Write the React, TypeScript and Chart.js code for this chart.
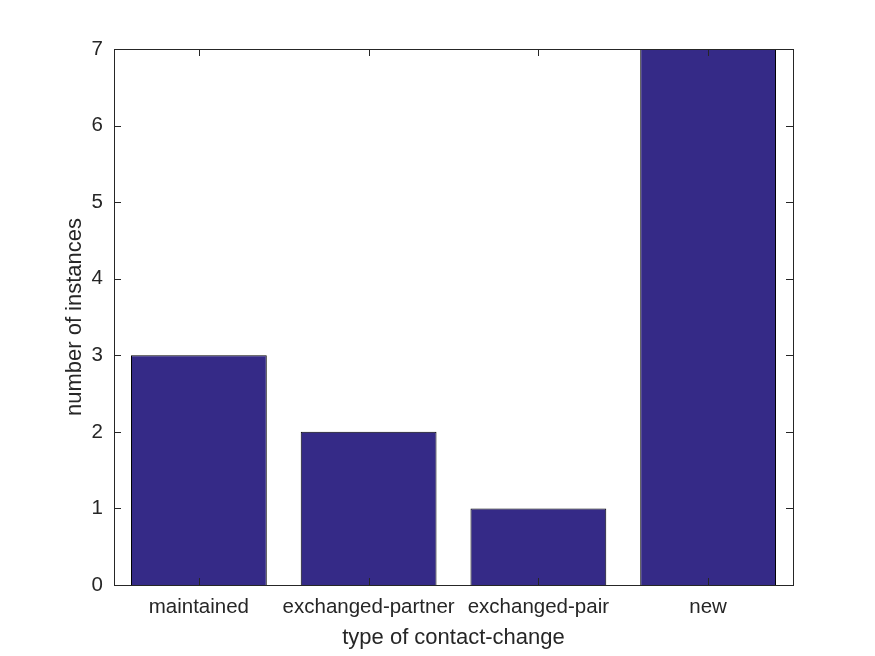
import React, { useEffect, useRef } from "react";
import { Chart, registerables } from "chart.js";

Chart.register(...registerables);

const categories = ["maintained", "exchanged-partner", "exchanged-pair", "new"];
const instanceCounts = [3, 2, 1, 7];
const yTickMin = 0;
const yTickMax = 7;
const xTitle = "type of contact-change";
const yTitle = "number of instances";

const AXIS_COLOR = "#262626";
const FONT = "'Liberation Sans', Arial, Helvetica, sans-serif";

const boxTicksPlugin = {
  id: "boxTicks",
  afterDatasetsDraw(chart: any) {
    const { ctx, chartArea, scales } = chart;
    const { left, right, top, bottom } = chartArea;
    const len = 7;
    ctx.save();
    ctx.strokeStyle = AXIS_COLOR;
    ctx.lineWidth = 1;
    ctx.beginPath();
    const ys = scales.y;
    ys.ticks.forEach((_t: any, i: number) => {
      const py = Math.round(ys.getPixelForTick(i)) + 0.5;
      ctx.moveTo(left, py);
      ctx.lineTo(left + len, py);
      ctx.moveTo(right, py);
      ctx.lineTo(right - len, py);
    });
    const xs = scales.x;
    xs.ticks.forEach((_t: any, i: number) => {
      const px = Math.round(xs.getPixelForTick(i)) + 0.5;
      ctx.moveTo(px, bottom);
      ctx.lineTo(px, bottom - len);
      ctx.moveTo(px, top);
      ctx.lineTo(px, top + len);
    });
    ctx.stroke();
    ctx.strokeRect(Math.round(left) + 0.5, Math.round(top) + 0.5, Math.round(right - left), Math.round(bottom - top));
    ctx.restore();
  },
};

export default function App() {
  const ref = useRef<HTMLCanvasElement | null>(null);
  useEffect(() => {
    if (!ref.current) return;
    const chart = new Chart(ref.current, {
      type: "bar",
      data: {
        labels: categories,
        datasets: [
          {
            data: instanceCounts,
            backgroundColor: "#352a87",
            borderColor: "#000000",
            borderWidth: 1,
            barPercentage: 0.8,
            categoryPercentage: 1,
          },
        ],
      },
      options: {
        animation: false,
        responsive: false,
        devicePixelRatio: 1,
        layout: { padding: { left: 62, top: 49, right: 82, bottom: 5 } },
        plugins: { legend: { display: false }, tooltip: { enabled: false } },
        scales: {
          x: {
            offset: true,
            grid: { display: false, drawTicks: false },
            border: { display: false },
            ticks: {
              color: AXIS_COLOR,
              font: { family: FONT, size: 20.5 },
              padding: 10,
              maxRotation: 0,
              autoSkip: false,
            },
            title: {
              display: true,
              text: xTitle,
              color: AXIS_COLOR,
              font: { family: FONT, size: 22 },
              padding: 0,
            },
            afterFit: (s: any) => {
              s.height = 66;
            },
          },
          y: {
            min: yTickMin,
            max: yTickMax,
            grid: { display: false, drawTicks: false },
            border: { display: false },
            ticks: {
              stepSize: 1,
              color: AXIS_COLOR,
              font: { family: FONT, size: 20.5 },
              padding: 11,
            },
            title: {
              display: true,
              text: yTitle,
              color: AXIS_COLOR,
              font: { family: FONT, size: 22 },
              padding: 0,
            },
            afterFit: (s: any) => {
              s.width = 52;
            },
          },
        },
      },
      plugins: [boxTicksPlugin],
    });
    return () => chart.destroy();
  }, []);
  return (
    <div style={{ position: "absolute", left: 0, top: 0, width: 875, height: 656, background: "#ffffff" }}>
      <canvas ref={ref} width={875} height={656} style={{ width: 875, height: 656 }} />
    </div>
  );
}
